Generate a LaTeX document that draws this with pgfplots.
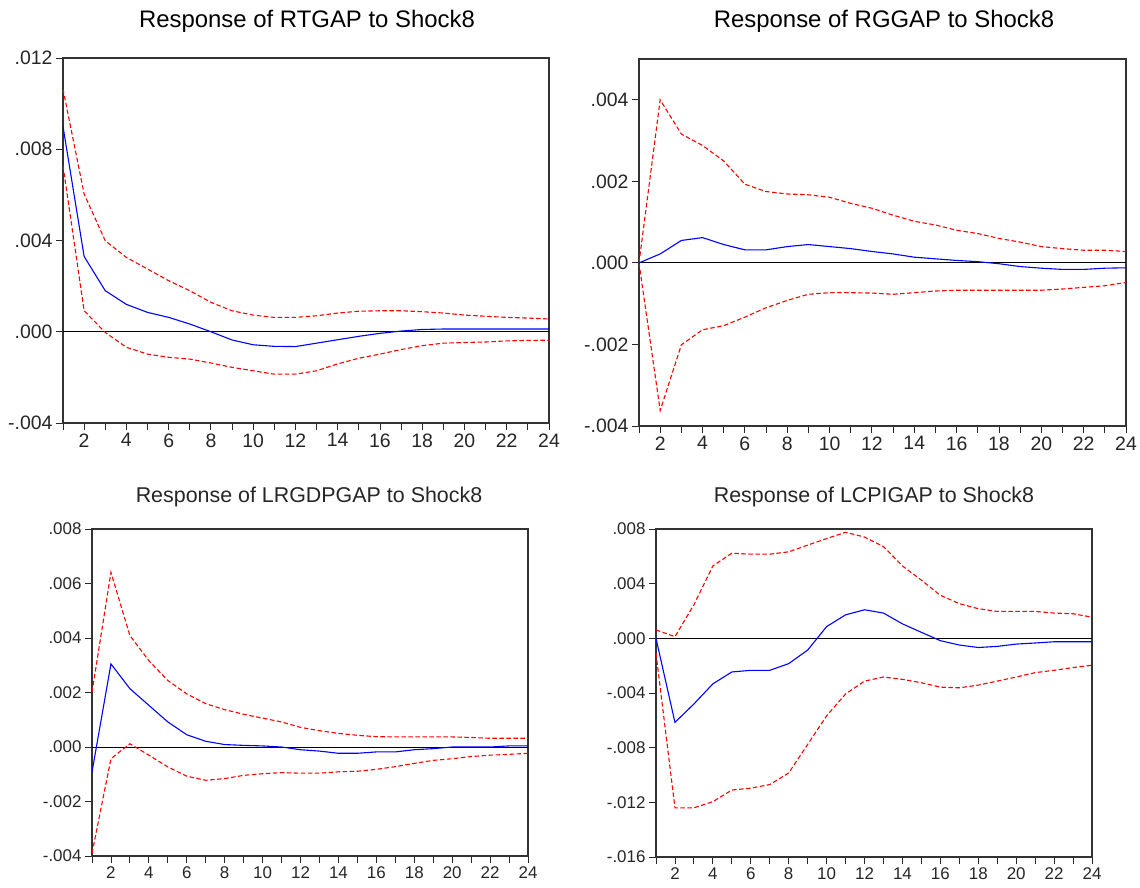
\documentclass[border=0pt]{standalone}
\usepackage{fontspec}
\setmainfont{Liberation Sans}
\usepackage{pgfplots}
\usepackage{pgfplotstable}
\pgfplotsset{compat=1.18}

\pgfplotstableread{
x irf lo hi
1 0.0090 0.00728 0.01064
2 0.0033 0.00092 0.00604
3 0.0018 -0.00003 0.00399
4 0.0012 -0.00068 0.00326
5 0.00085 -0.00098 0.00275
6 0.00063 -0.00112 0.00224
7 0.00034 -0.00120 0.00180
8 0.00000 -0.00137 0.00129
9 -0.00036 -0.00156 0.00092
10 -0.00057 -0.00171 0.00073
11 -0.00064 -0.00186 0.00063
12 -0.00065 -0.00186 0.00063
13 -0.00050 -0.00171 0.00070
14 -0.00035 -0.00141 0.00082
15 -0.00020 -0.00116 0.00090
16 -0.00007 -0.00098 0.00092
17 0.00003 -0.00078 0.00092
18 0.00010 -0.00061 0.00088
19 0.00012 -0.00050 0.00082
20 0.00012 -0.00047 0.00073
21 0.00012 -0.00045 0.00068
22 0.00012 -0.00040 0.00063
23 0.00012 -0.00038 0.00060
24 0.00012 -0.00037 0.00056
}\rtgap

\pgfplotstableread{
x irf lo hi
1 0 0 0
2 0.00022 -0.00362 0.00400
3 0.00055 -0.00201 0.00316
4 0.00062 -0.00164 0.00288
5 0.00045 -0.00154 0.00250
6 0.00032 -0.00133 0.00193
7 0.00032 -0.00110 0.00175
8 0.00040 -0.00092 0.00169
9 0.00045 -0.00077 0.00167
10 0.00040 -0.00073 0.00161
11 0.00035 -0.00073 0.00146
12 0.00028 -0.00074 0.00134
13 0.00022 -0.00077 0.00117
14 0.00014 -0.00073 0.00102
15 0.00010 -0.00069 0.00093
16 0.00006 -0.00067 0.00080
17 0.00003 -0.00067 0.00072
18 -0.00002 -0.00067 0.00060
19 -0.00009 -0.00067 0.00051
20 -0.00013 -0.00067 0.00040
21 -0.00016 -0.00064 0.00035
22 -0.00016 -0.00060 0.00031
23 -0.00013 -0.00056 0.00031
24 -0.00012 -0.00048 0.00028
}\rggap

\pgfplotstableread{
x irf lo hi
1 -0.00092 -0.00390 0.00201
2 0.00305 -0.00043 0.00641
3 0.00214 0.00012 0.00409
4 0.00153 -0.00030 0.00317
5 0.00092 -0.00073 0.00244
6 0.00045 -0.00107 0.00195
7 0.00021 -0.00122 0.00159
8 0.00009 -0.00116 0.00137
9 0.00006 -0.00104 0.00120
10 0.00004 -0.00098 0.00106
11 0.00000 -0.00094 0.00092
12 -0.00010 -0.00096 0.00072
13 -0.00015 -0.00096 0.00060
14 -0.00023 -0.00091 0.00050
15 -0.00023 -0.00089 0.00043
16 -0.00018 -0.00082 0.00038
17 -0.00018 -0.00072 0.00037
18 -0.00010 -0.00060 0.00037
19 -0.00006 -0.00049 0.00037
20 0.00000 -0.00043 0.00037
21 0.00000 -0.00035 0.00035
22 0.00000 -0.00030 0.00032
23 0.00004 -0.00027 0.00032
24 0.00004 -0.00023 0.00032
}\lrgdpgap

\pgfplotstableread{
x irf lo hi
1 0 -0.00110 0.00062
2 -0.00615 -0.01240 0.00012
3 -0.00480 -0.01240 0.00246
4 -0.00333 -0.01195 0.00530
5 -0.00246 -0.01110 0.00623
6 -0.00234 -0.01096 0.00616
7 -0.00234 -0.01070 0.00616
8 -0.00185 -0.00985 0.00633
9 -0.00086 -0.00776 0.00682
10 0.00086 -0.00567 0.00730
11 0.00172 -0.00407 0.00776
12 0.00209 -0.00313 0.00741
13 0.00185 -0.00283 0.00672
14 0.00106 -0.00300 0.00530
15 0.00044 -0.00325 0.00426
16 -0.00017 -0.00357 0.00315
17 -0.00049 -0.00362 0.00254
18 -0.00067 -0.00342 0.00217
19 -0.00059 -0.00313 0.00197
20 -0.00042 -0.00283 0.00197
21 -0.00034 -0.00251 0.00197
22 -0.00025 -0.00234 0.00185
23 -0.00025 -0.00214 0.00180
24 -0.00025 -0.00197 0.00155
}\lcpigap

\pgfplotsset{
  irf/.style={
    scale only axis,
    anchor=south west,
    xmin=1, xmax=24,
    xtick={2,4,...,24},
    minor xtick={1,3,...,23},
    tick align=outside,
    tick pos=left,
    major tick length=7bp,
    minor tick length=7bp,
    scaled y ticks=false,
    scaled x ticks=false,
    every tick/.style={black!85, line width=0.9bp},
    every minor tick/.style={black!85, line width=0.9bp},
    axis line style={black!80, line width=1.3bp},
    /pgf/number format/assume math mode=true,
    tick label style={black!85},
    clip=true,
  },
  midline/.style={blue, line width=1.1bp},
  band/.style={red, line width=1.1bp, dash pattern=on 4.5bp off 2.5bp},
  zeroline/.style={black, line width=1bp, forget plot},
}

\begin{document}
\begin{tikzpicture}
\path[use as bounding box] (0,0) rectangle (1140bp,-888bp);

% Panel 1
\begin{axis}[irf, at={(63bp,-423bp)}, width=486bp, height=365bp,
  ymin=-0.004, ymax=0.012,
  ytick={-0.004,0,0.004,0.008,0.012},
  yticklabels={-.004,.000,.004,.008,.012},
  tick label style={font=\fontsize{19.5}{19.5}\selectfont}]
\addplot[zeroline] coordinates {(1,0) (24,0)};
\addplot[band] table[x=x,y=hi] {\rtgap};
\addplot[band] table[x=x,y=lo] {\rtgap};
\addplot[midline] table[x=x,y=irf] {\rtgap};
\end{axis}

% Panel 2
\begin{axis}[irf, at={(639bp,-426bp)}, width=487bp, height=367bp,
  ymin=-0.004, ymax=0.005,
  ytick={-0.004,-0.002,0,0.002,0.004},
  yticklabels={-.004,-.002,.000,.002,.004},
  tick label style={font=\fontsize{19.5}{19.5}\selectfont}]
\addplot[zeroline] coordinates {(1,0) (24,0)};
\addplot[band] table[x=x,y=hi] {\rggap};
\addplot[band] table[x=x,y=lo] {\rggap};
\addplot[midline] table[x=x,y=irf] {\rggap};
\end{axis}

% Panel 3
\begin{axis}[irf, at={(92bp,-856bp)}, width=436bp, height=327bp,
  ymin=-0.004, ymax=0.008,
  ytick={-0.004,-0.002,0,0.002,0.004,0.006,0.008},
  yticklabels={-.004,-.002,.000,.002,.004,.006,.008},
  tick label style={font=\fontsize{17}{17}\selectfont}]
\addplot[zeroline] coordinates {(1,0) (24,0)};
\addplot[band] table[x=x,y=hi] {\lrgdpgap};
\addplot[band] table[x=x,y=lo] {\lrgdpgap};
\addplot[midline] table[x=x,y=irf] {\lrgdpgap};
\end{axis}

% Panel 4
\begin{axis}[irf, at={(656bp,-857bp)}, width=436bp, height=328bp,
  ymin=-0.016, ymax=0.008,
  ytick={-0.016,-0.012,-0.008,-0.004,0,0.004,0.008},
  yticklabels={-.016,-.012,-.008,-.004,.000,.004,.008},
  tick label style={font=\fontsize{17}{17}\selectfont}]
\addplot[zeroline] coordinates {(1,0) (24,0)};
\addplot[band] table[x=x,y=hi] {\lcpigap};
\addplot[band] table[x=x,y=lo] {\lcpigap};
\addplot[midline] table[x=x,y=irf] {\lcpigap};
\end{axis}

% Titles
\node[font=\fontsize{24}{24}\selectfont] at (307bp,-21bp) {Response of RTGAP to Shock8};
\node[font=\fontsize{24}{24}\selectfont] at (884bp,-21bp) {Response of RGGAP to Shock8};
\node[font=\fontsize{21.5}{21.5}\selectfont, text=black!85] at (309bp,-497bp) {Response of LRGDPGAP to Shock8};
\node[font=\fontsize{21.5}{21.5}\selectfont, text=black!85] at (874bp,-497bp) {Response of LCPIGAP to Shock8};
\end{tikzpicture}
\end{document}
